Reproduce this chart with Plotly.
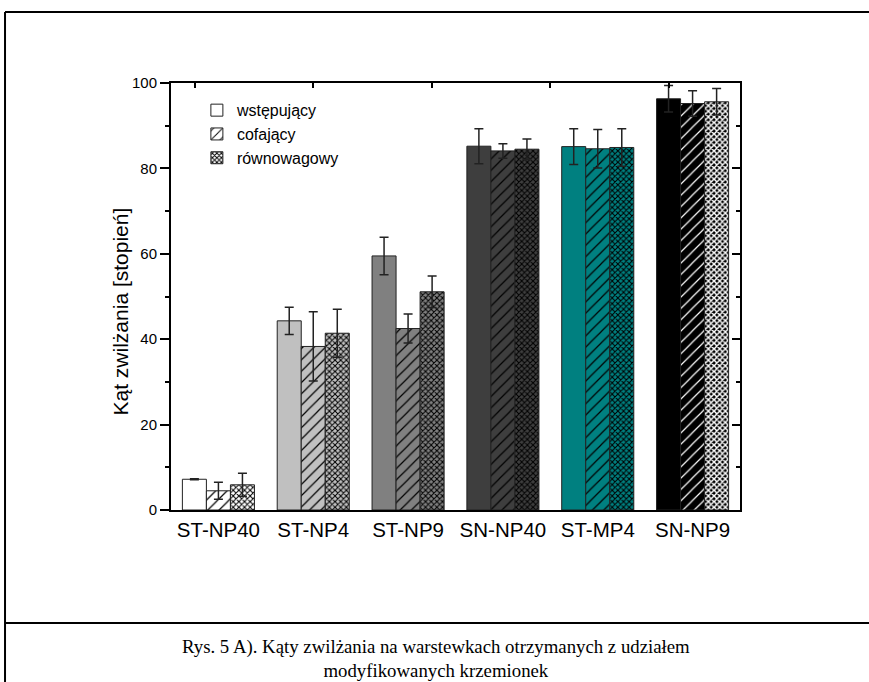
import plotly.graph_objects as go

# ---- data ----
categories = ["ST-NP40", "ST-NP4", "ST-NP9", "SN-NP40", "ST-MP4", "SN-NP9"]
advancing = [7.2, 44.3, 59.5, 85.2, 85.1, 96.3]
advancing_err = [0.1, 3.2, 4.4, 4.1, 4.2, 3.1]
receding = [4.5, 38.3, 42.5, 84.1, 84.6, 95.2]
receding_err = [2.0, 8.1, 3.4, 1.7, 4.5, 3.0]
equilibrium = [5.9, 41.4, 51.1, 84.5, 84.9, 95.6]
equilibrium_err = [2.7, 5.6, 3.7, 2.4, 4.4, 3.1]
series_names = ["wstępujący", "cofający", "równowagowy"]
top_tick_positions = [-0.25, 1.0, 2.25, 3.5, 4.75]
y_title = "Kąt zwilżania [stopień]"
caption = ("Rys. 5 A). Kąty zwilżania na warstewkach otrzymanych z udziałem<br>"
           "modyfikowanych krzemionek")

# ---- styles ----
group_colors = ["#ffffff", "#c0c0c0", "#808080", "#3e3e3e", "#008080", "#000000"]
pattern_fg = ["#000000", "#000000", "#000000", "#000000", "#000000", "#ffffff"]
cross_solidity = [0.45, 0.45, 0.45, 0.45, 0.45, 0.6]
outline = "#222222"
font_family = "Liberation Sans, Arial, sans-serif"


def err(arr):
    return dict(type="data", array=arr, color="#222222", thickness=1.5, width=4.5)


fig = go.Figure()
fig.add_bar(name=series_names[0], x=categories, y=advancing, error_y=err(advancing_err),
            marker=dict(color=group_colors, line=dict(color=outline, width=1)))
fig.add_bar(name=series_names[1], x=categories, y=receding, error_y=err(receding_err),
            marker=dict(color="#ffffff", line=dict(color=outline, width=1),
                        pattern=dict(shape="/", bgcolor=group_colors, fgcolor=pattern_fg,
                                     size=8, solidity=0.15, fillmode="replace")))
fig.add_bar(name=series_names[2], x=categories, y=equilibrium, error_y=err(equilibrium_err),
            marker=dict(color="#ffffff", line=dict(color=outline, width=1),
                        pattern=dict(shape="x", bgcolor=group_colors, fgcolor=pattern_fg,
                                     size=4, solidity=cross_solidity, fillmode="replace")))
# empty helper trace so the overlaid tick-only axes (top / right) are drawn
fig.add_scatter(x=[], y=[], xaxis="x2", yaxis="y2", showlegend=False, hoverinfo="skip")

fig.update_layout(
    width=869, height=682,
    margin=dict(l=171, r=129, t=83, b=172, autoexpand=False),
    paper_bgcolor="white", plot_bgcolor="white",
    barmode="group", bargap=0.24, bargroupgap=0,
    font=dict(family=font_family, color="black"),
    showlegend=True,
    legend=dict(x=0.0455, y=0.976, xanchor="left", yanchor="top",
                bgcolor="rgba(0,0,0,0)", font=dict(size=16, family=font_family),
                tracegroupgap=0, itemwidth=30),
    xaxis=dict(type="category", range=[-0.5, 5.5], showline=True, linecolor="black",
               linewidth=2, mirror=True, ticks="", tickfont=dict(size=20.5),
               showgrid=False, zeroline=False),
    xaxis2=dict(overlaying="x", side="top", anchor="y2", range=[-0.5, 5.5], showline=False,
                tickvals=top_tick_positions, ticks="inside", ticklen=5,
                tickwidth=1.5, tickcolor="black", showticklabels=False,
                showgrid=False, zeroline=False),
    yaxis=dict(range=[0, 100], dtick=20, tick0=0, ticks="outside", ticklen=9, tickwidth=1.5,
               tickcolor="black", showline=True, linecolor="black", linewidth=2, mirror=True,
               tickfont=dict(size=15), showgrid=False, zeroline=False,
               minor=dict(dtick=10, ticks="outside", ticklen=4, tickwidth=1.5, tickcolor="black",
                          showgrid=False)),
    yaxis2=dict(overlaying="y", side="right", anchor="x2", range=[0, 100], dtick=20, tick0=0,
                ticks="inside", ticklen=8, tickwidth=1.5, tickcolor="black",
                showticklabels=False, showline=False, showgrid=False, zeroline=False,
                minor=dict(dtick=10, ticks="inside", ticklen=4, tickwidth=1.5,
                           tickcolor="black", showgrid=False)),
)

# y-axis title (placed like the original, slightly below centre)
fig.add_annotation(text=y_title, xref="paper", yref="paper", x=-0.0888, y=0.466,
                   textangle=-90, showarrow=False, xanchor="center", yanchor="middle",
                   font=dict(size=21, family=font_family, color="black"))

# outer document frame (left + top edges) and caption separator
fig.add_shape(type="line", xref="paper", yref="paper", x0=-0.2917, x1=-0.2917, y0=-1.0, y1=1.1663,
              line=dict(color="black", width=2))
fig.add_shape(type="line", xref="paper", yref="paper", x0=-0.2917, x1=2.0, y0=1.1663, y1=1.1663,
              line=dict(color="black", width=2))
fig.add_shape(type="line", xref="paper", yref="paper", x0=-0.2917, x1=2.0, y0=-0.2646, y1=-0.2646,
              line=dict(color="black", width=2))

fig.add_annotation(text=caption, xref="paper", yref="paper", x=0.4657, y=-0.3478,
                   showarrow=False, xanchor="center", yanchor="middle",
                   font=dict(size=18.8, family="Liberation Serif, Times New Roman, serif", color="black"))

fig.write_html("out.html", config={"displayModeBar": False},
               post_script="document.body.style.margin='0';document.body.style.overflow='hidden';")
